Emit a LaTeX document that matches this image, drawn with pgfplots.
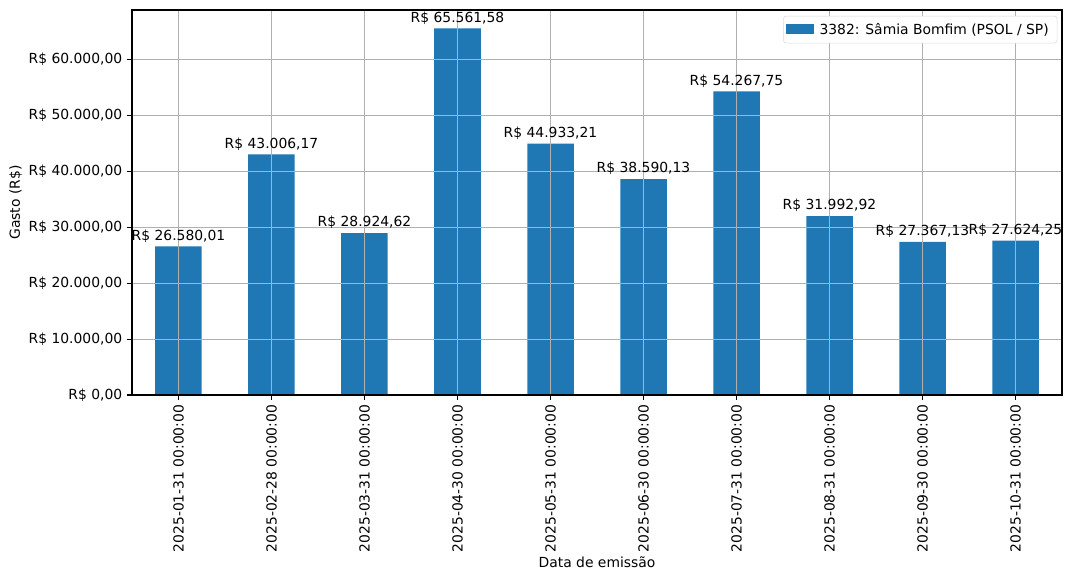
\documentclass[border=0pt]{standalone}
\usepackage{fontspec}
\setmainfont{DejaVu Sans}
\usepackage{pgfplots}
\pgfplotsset{compat=1.18}
\definecolor{barblue}{HTML}{1F77B4}
\definecolor{gridgray}{HTML}{B0B0B0}

\begin{document}
\begin{tikzpicture}
% page: 1072x580 px at 100 dpi (1 px = 0.72pt); axis box 930x385 px
\path[use as bounding box] (-95.04pt,-133.2pt) rectangle (676.8pt,284.4pt);
\begin{axis}[
    at={(0,0)}, anchor=south west,
    scale only axis,
    width=669.6pt, height=277.2pt,
    xmin=-0.5, xmax=9.5,
    ymin=0, ymax=68839.66,
    axis on top,
    axis line style={line width=0.8pt},
    grid=major,
    major grid style={line width=0.8pt, gridgray},
    tick align=outside,
    xtick pos=bottom, ytick pos=left,
    major tick length=3.5pt,
    every tick/.style={black, line width=0.8pt},
    xtick={0,...,9},
    xticklabels={2025-01-31 00:00:00,2025-02-28 00:00:00,2025-03-31 00:00:00,
        2025-04-30 00:00:00,2025-05-31 00:00:00,2025-06-30 00:00:00,
        2025-07-31 00:00:00,2025-08-31 00:00:00,2025-09-30 00:00:00,
        2025-10-31 00:00:00},
    x tick label style={rotate=90, anchor=east, font=\fontsize{10}{12}\selectfont},
    ytick={0,10000,20000,30000,40000,50000,60000},
    yticklabels={{R\$ 0,00},{R\$ 10.000,00},{R\$ 20.000,00},{R\$ 30.000,00},
        {R\$ 40.000,00},{R\$ 50.000,00},{R\$ 60.000,00}},
    y tick label style={font=\fontsize{10}{12}\selectfont},
    xlabel={Data de emissão},
    ylabel={Gasto (R\$)},
    label style={font=\fontsize{10}{12}\selectfont},
    ylabel style={yshift=-2pt},
    xlabel style={yshift=4pt},
    ybar, bar width=0.5, bar shift=0pt,
    point meta=explicit symbolic,
    nodes near coords,
    nodes near coords style={font=\fontsize{10}{12}\selectfont, anchor=south, yshift=-0.5pt},
    legend style={at={(0.995,0.985)}, anchor=north east, draw=gray!30,
        rounded corners=2pt, font=\fontsize{10}{12}\selectfont,
        inner xsep=2pt, inner ysep=3pt,
        nodes={inner xsep=4pt, inner ysep=2pt}},
    legend image code/.code={\fill[barblue, sharp corners] (0cm,-0.11cm) rectangle (0.7cm,0.14cm);},
]
\addplot[fill=barblue, draw=none] coordinates {
    (0,26580.01) [R\$ 26.580,01]
    (1,43006.17) [R\$ 43.006,17]
    (2,28924.62) [R\$ 28.924,62]
    (3,65561.58) [R\$ 65.561,58]
    (4,44933.21) [R\$ 44.933,21]
    (5,38590.13) [R\$ 38.590,13]
    (6,54267.75) [R\$ 54.267,75]
    (7,31992.92) [R\$ 31.992,92]
    (8,27367.13) [R\$ 27.367,13]
    (9,27624.25) [R\$ 27.624,25]
};
\addlegendentry{3382: Sâmia Bomfim (PSOL / SP)}
\end{axis}
\end{tikzpicture}
\end{document}
